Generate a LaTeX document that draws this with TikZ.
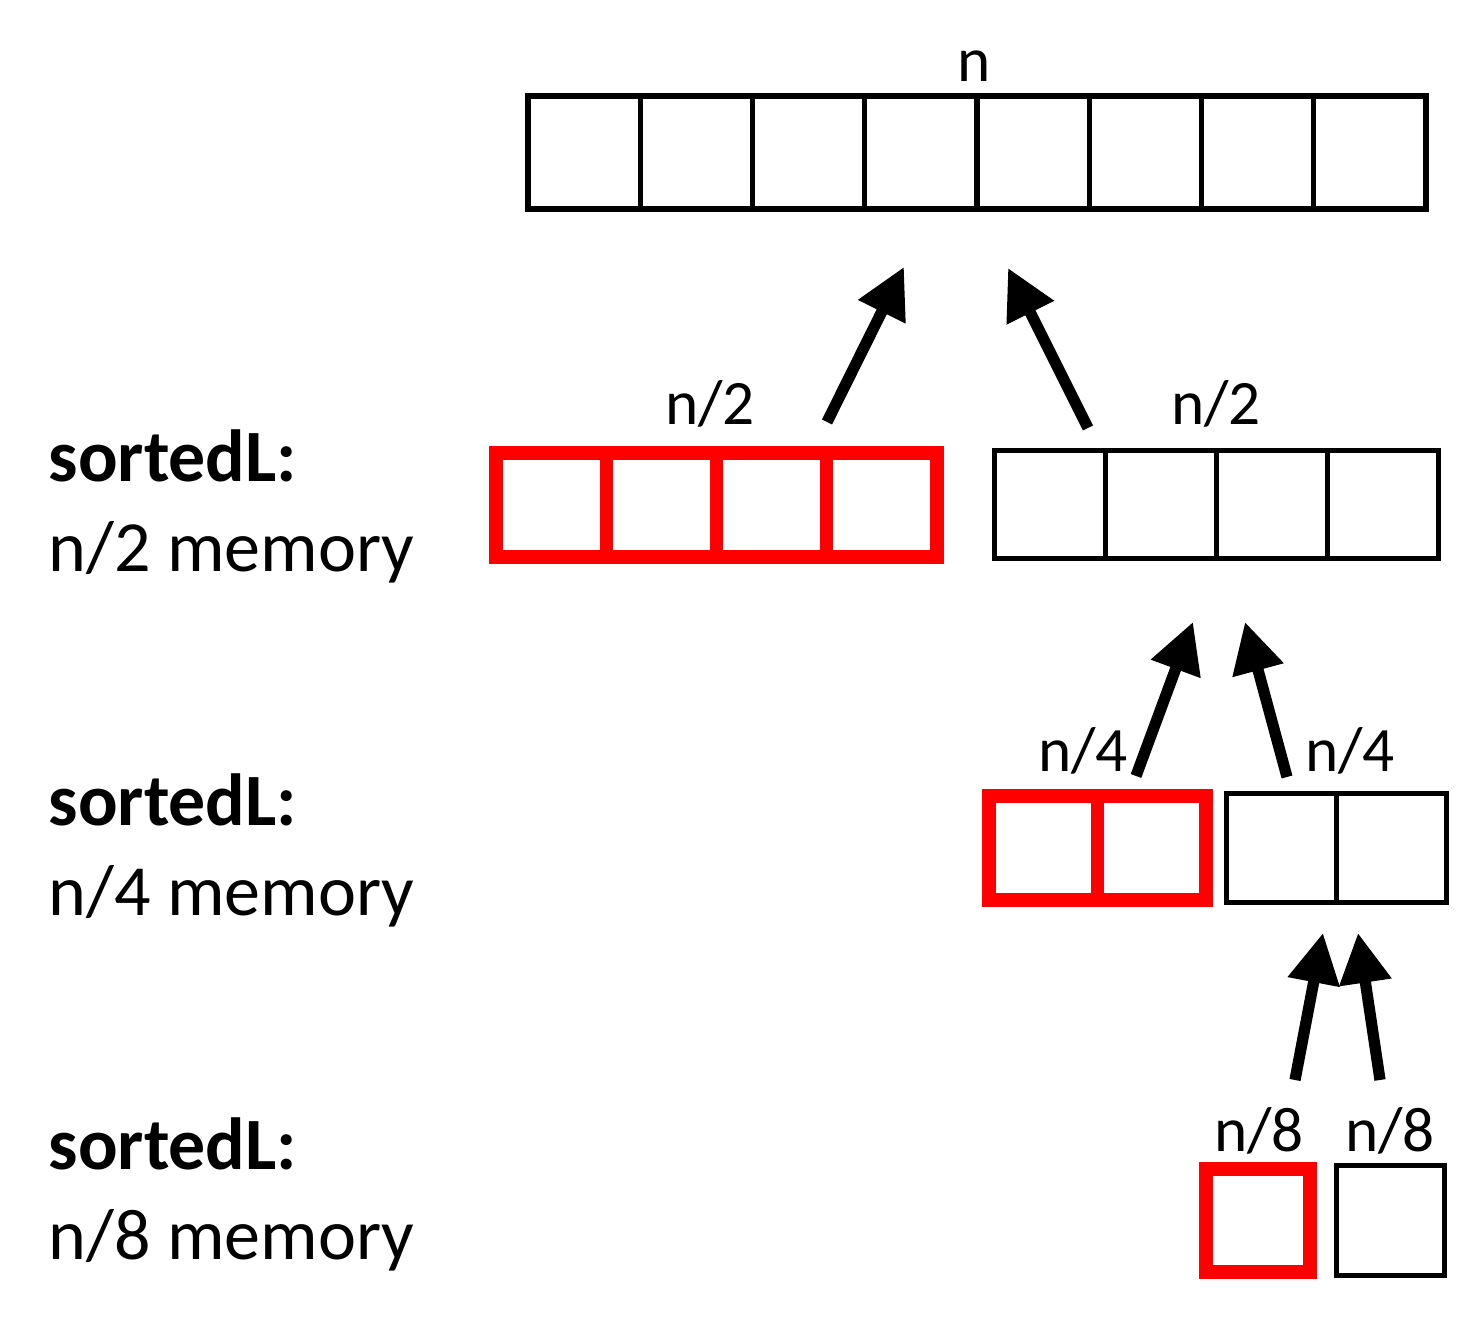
\documentclass[tikz,border=0pt]{standalone}
\usepackage{fontspec}
\setmainfont{Carlito}
\usepackage{tikz}
\usetikzlibrary{arrows.meta, positioning, calc}
\definecolor{runred}{RGB}{255, 0, 0}

\begin{document}
\begin{tikzpicture}[
    cell/.style={draw=black, line width=1.5pt, inner sep=0pt, minimum width=1.12cm, minimum height=1.10cm},
    redcell/.style={cell, draw=runred, line width=3.8pt},
    sizelabel/.style={anchor=base, inner sep=0pt, font=\fontsize{18}{20}\selectfont},
    sidelabel/.style={anchor=base west, inner sep=0pt, font=\fontsize{20.5}{24}\selectfont},
    boldlabel/.style={sidelabel, font=\fontsize{21}{24}\selectfont\bfseries},
    mergearrow/.style={line width=3.2pt, -{Triangle[length=0.5cm, width=0.5cm]}}
  ]
  \useasboundingbox (0, 0) rectangle (14.78, 13.29);

  % full array
  \foreach \i in {1,...,8}
    \node[cell, minimum width=1.1225cm, minimum height=1.13cm] (top\i) at ({5.28 + 1.1225*(\i - 0.5)}, 11.765) {};
  \node[sizelabel] (labn) at (9.74, 12.47) {n};

  % halves
  \foreach \i in {1,...,4} {
    \node[redcell, minimum width=1.1025cm, minimum height=1.04cm] (lhalf\i) at ({4.96 + 1.1025*(\i - 0.5)}, 8.24) {};
    \node[cell, minimum width=1.11cm, minimum height=1.085cm] (rhalf\i) at ({9.945 + 1.11*(\i - 0.5)}, 8.245) {};
  }
  \node[sizelabel] (labhalfl) at (7.10, 9.04) {n/2};
  \node[sizelabel] (labhalfr) at (12.16, 9.04) {n/2};

  % quarters
  \foreach \i in {1,2} {
    \node[redcell, minimum width=1.085cm, minimum height=1.04cm] (lquart\i) at ({9.89 + 1.085*(\i - 0.5)}, 4.81) {};
    \node[cell, minimum width=1.10cm, minimum height=1.095cm] (rquart\i) at ({12.265 + 1.10*(\i - 0.5)}, 4.81) {};
  }
  \node[sizelabel] (labquartl) at (10.83, 5.57) {n/4};
  \node[sizelabel] (labquartr) at (13.50, 5.57) {n/4};

  % eighths
  \node[redcell, minimum width=1.04cm, minimum height=1.03cm] (leighth) at (12.58, 1.085) {};
  \node[cell, minimum width=1.08cm, minimum height=1.105cm] (reighth) at (13.905, 1.085) {};
  \node[sizelabel] (labeighthl) at (12.59, 1.77) {n/8};
  \node[sizelabel] (labeighthr) at (13.90, 1.77) {n/8};

  % memory notes
  \node[boldlabel] (sortA) at (0.48, 8.47) {sortedL:};
  \node[sidelabel] (memA) at (0.48, 7.57) {n/2 memory};
  \node[boldlabel] (sortB) at (0.48, 5.03) {sortedL:};
  \node[sidelabel] (memB) at (0.48, 4.13) {n/4 memory};
  \node[boldlabel] (sortC) at (0.48, 1.59) {sortedL:};
  \node[sidelabel] (memC) at (0.48, 0.69) {n/8 memory};

  % merge arrows
  \coordinate (fromhalfl) at (8.27, 9.07);
  \coordinate (tohalfl) at (9.04, 10.62);
  \coordinate (fromhalfr) at (10.88, 9.01);
  \coordinate (tohalfr) at (10.08, 10.61);
  \coordinate (fromquartl) at (11.36, 5.53);
  \coordinate (toquartl) at (11.93, 7.07);
  \coordinate (fromquartr) at (12.87, 5.52);
  \coordinate (toquartr) at (12.45, 7.07);
  \coordinate (fromeighthl) at (12.95, 2.49);
  \coordinate (toeighthl) at (13.23, 3.96);
  \coordinate (fromeighthr) at (13.80, 2.49);
  \coordinate (toeighthr) at (13.58, 3.96);
  \draw[mergearrow] (fromhalfl) -- (tohalfl);
  \draw[mergearrow] (fromhalfr) -- (tohalfr);
  \draw[mergearrow] (fromquartl) -- (toquartl);
  \draw[mergearrow] (fromquartr) -- (toquartr);
  \draw[mergearrow] (fromeighthl) -- (toeighthl);
  \draw[mergearrow] (fromeighthr) -- (toeighthr);
\end{tikzpicture}
\end{document}
